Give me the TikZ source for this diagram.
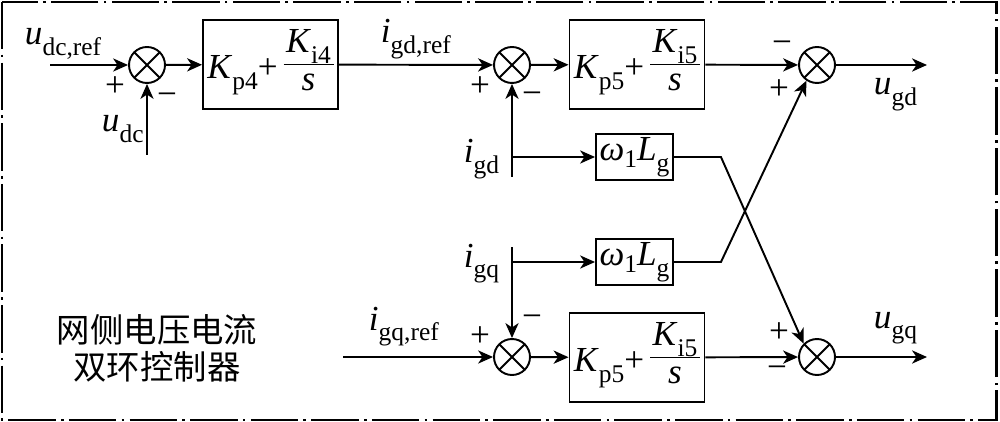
\documentclass[tikz,border=0pt]{standalone}
\usepackage{fontspec}
\setmainfont{Liberation Serif}
\newfontfamily\cjk{Noto Sans CJK SC}
\usetikzlibrary{arrows.meta}

\newcommand{\sig}[2]{\textit{#1}\raisebox{-0.3em}{\fontsize{14.5}{14.5}\selectfont #2}}
\newcommand{\pifrac}[2]{\sig{K}{#1}+\,{\renewcommand\arraystretch{0.85}%
  \setlength\arrayrulewidth{1pt}\setlength\tabcolsep{1.5pt}%
  \raisebox{-6.8pt}{\begin{tabular}[b]{c}\sig{K}{#2}\\\hline\textit{s}\end{tabular}}}}

\begin{document}
\begin{tikzpicture}[x=0.02cm,y=-0.02cm,
  font=\fontsize{20}{24}\selectfont,
  line width=1.1pt,
  >={Stealth[length=8.5pt,width=7.5pt,inset=2.5pt]},
  frame/.style={line width=1.7pt,dash pattern=on 27pt off 3pt on 1.5pt off 3pt},
  sum/.style={draw,circle,minimum size=0.72cm,inner sep=0pt,
    path picture={\draw (path picture bounding box.north west) -- (path picture bounding box.south east)
      (path picture bounding box.north east) -- (path picture bounding box.south west);}},
  pibox/.style={draw,minimum width=2.7cm,minimum height=1.78cm,inner sep=0pt},
  wlbox/.style={draw,minimum width=1.54cm,minimum height=0.92cm,inner sep=0pt},
  lbl/.style={inner sep=0pt,anchor=base west},
  sgn/.style={inner sep=0pt}]
  \useasboundingbox (0,0) rectangle (1000,422);
  \draw[frame] (2,2) rectangle (996,420);

  % summing points and blocks
  \node[sum] (s1) at (147,65) {};
  \node[pibox] (pi1) at (270.5,64.5) {\pifrac{p4}{i4}};
  \node[sum] (s2) at (512,65) {};
  \node[pibox] (pi2) at (637,64.5) {\pifrac{p5}{i5}};
  \node[sum] (s3) at (817,65) {};
  \node[wlbox] (wl1) at (634.5,157) {\textit{ω}\raisebox{-0.2em}{\fontsize{14.5}{14.5}\selectfont 1}\sig{L}{g}};
  \node[wlbox] (wl2) at (634.5,262) {\textit{ω}\raisebox{-0.2em}{\fontsize{14.5}{14.5}\selectfont 1}\sig{L}{g}};
  \node[sum] (s5) at (512,357) {};
  \node[pibox] (pi3) at (637,357.5) {\pifrac{p5}{i5}};
  \node[sum] (s4) at (817,357) {};

  % free ends
  \coordinate (udcref) at (50,65);
  \coordinate (udc) at (147,155);
  \coordinate (igd) at (512,177);
  \coordinate (igq) at (512,247);
  \coordinate (igqref) at (343,357);
  \coordinate (ugd) at (927,65);
  \coordinate (ugq) at (927,357);

  % connectors
  \draw[->] (udcref) -- (s1);
  \draw[->] (udc) -- (s1);
  \draw[->] (s1) -- (pi1);
  \draw[->] (pi1) -- (s2);
  \draw[->] (s2) -- (pi2);
  \draw[->] (pi2) -- (s3);
  \draw[->] (s3) -- (ugd);
  \draw[->] (igd) -- (s2);
  \draw[->] (igd |- wl1) -- (wl1);
  \draw[->] (igq) -- (s5);
  \draw[->] (igq |- wl2) -- (wl2);
  \draw[->] (igqref) -- (s5);
  \draw[->] (s5) -- (pi3);
  \draw[->] (pi3) -- (s4);
  \draw[->] (s4) -- (ugq);
  \draw[->] (wl1.east) -- ++(47,0) -- (s4.135);
  \draw[->] (wl2.east) -- ++(47,0) -- (s3.236);

  % signal names
  \node[lbl] (tudcref) at (24,45) {\sig{u}{dc,ref}};
  \node[lbl] (tudc) at (101,132) {\sig{u}{dc}};
  \node[lbl] (tigdref) at (380,43) {\sig{i}{gd,ref}};
  \node[lbl] (tigd) at (463,163) {\sig{i}{gd}};
  \node[lbl] (tigq) at (463,267) {\sig{i}{gq}};
  \node[lbl] (tigqref) at (368,330) {\sig{i}{gq,ref}};
  \node[lbl] (tugd) at (873,95) {\sig{u}{gd}};
  \node[lbl] (tugq) at (873,328) {\sig{u}{gq}};

  % signs
  \node[sgn] (p1) at (115,87) {+};
  \node[sgn] (m1) at (167,99) {−};
  \node[sgn] (p2) at (480,87) {+};
  \node[sgn] (m2) at (532,98) {−};
  \node[sgn] (m3) at (782,47) {−};
  \node[sgn] (p3) at (779,90) {+};
  \node[sgn] (p5) at (480,337) {+};
  \node[sgn] (m5) at (532,321) {−};
  \node[sgn] (p4) at (779,333) {+};
  \node[sgn] (m4) at (777,372) {−};

  \node[align=center,font=\cjk\fontsize{19}{21}\selectfont] (title) at (157,348) {网侧电压电流\\双环控制器};
\end{tikzpicture}
\end{document}
